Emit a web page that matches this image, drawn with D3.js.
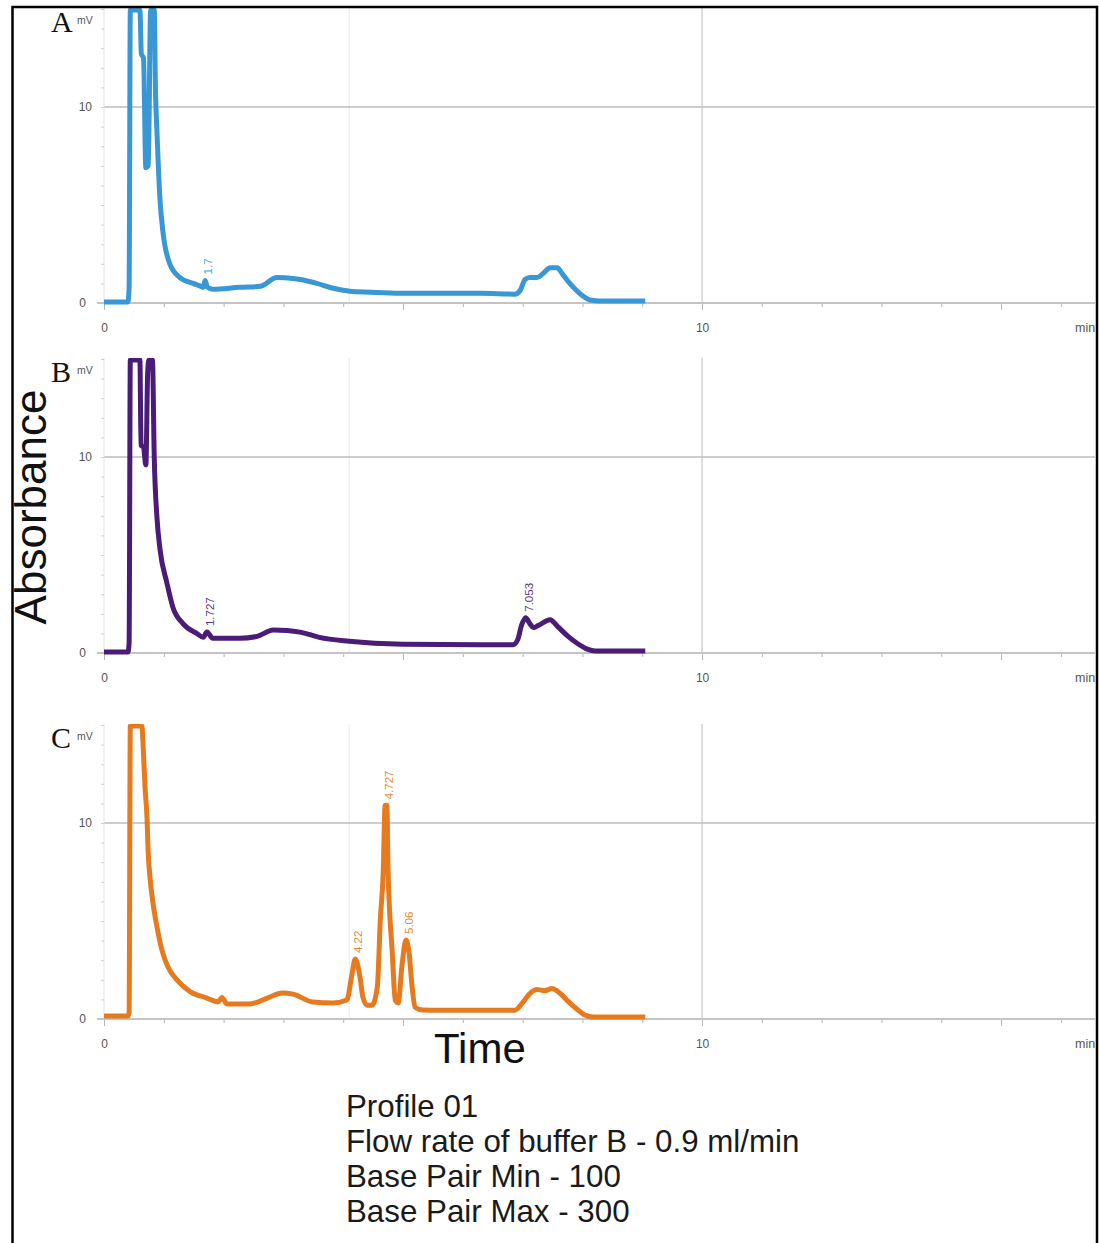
<!DOCTYPE html>
<html>
<head>
<meta charset="utf-8">
<script src="https://cdn.jsdelivr.net/npm/d3@7"></script>
<style>
  body { margin: 0; background: #fff; }
  svg { display: block; font-family: "Liberation Sans", Arial, sans-serif; }
</style>
</head>
<body>
<svg id="chart" width="1099" height="1243"></svg>
<script>
'use strict'

// Run A (blue) - time in min, absorbance in mV.
var timeA = [0, 0.40, 0.42, 0.44, 0.60, 0.625, 0.66, 0.70, 0.74, 0.78, 0.84, 0.86, 0.886, 0.936, 0.987, 1.10, 1.27, 1.49, 1.62, 1.66, 1.69, 1.73, 1.82, 2.27, 2.61, 2.89, 3.16, 3.28, 3.56, 3.83, 4.11, 4.45, 4.95, 6.29, 6.87, 6.96, 7.04, 7.12, 7.24, 7.34, 7.46, 7.58, 7.66, 7.76, 7.88, 7.99, 8.13, 8.29, 9.05];
var absA  = [0.05, 0.05, 0.8, 20, 20, 12.7, 12.5, 6.9, 7.0, 20, 20, 10.9, 8.7, 5.3, 3.6, 2.0, 1.3, 1.0, 0.85, 0.8, 1.15, 0.8, 0.7, 0.8, 0.85, 1.3, 1.25, 1.2, 1.0, 0.75, 0.6, 0.55, 0.5, 0.5, 0.45, 0.65, 1.2, 1.3, 1.3, 1.5, 1.8, 1.8, 1.5, 1.1, 0.7, 0.4, 0.15, 0.1, 0.1];

// Run B (purple).
var timeB = [0, 0.40, 0.42, 0.44, 0.60, 0.62, 0.66, 0.70, 0.73, 0.75, 0.81, 0.84, 0.886, 0.936, 1.05, 1.15, 1.32, 1.55, 1.66, 1.72, 1.82, 2.27, 2.56, 2.83, 3.06, 3.30, 3.60, 4.10, 5.00, 6.30, 6.84, 6.92, 6.98, 7.05, 7.12, 7.18, 7.26, 7.46, 7.57, 7.74, 7.91, 8.08, 8.21, 9.05];
var absB  = [0.05, 0.05, 0.5, 20, 20, 10.6, 10.5, 9.6, 14.3, 20, 20, 10, 6.9, 5.3, 3.6, 2.35, 1.5, 1.0, 0.8, 1.07, 0.75, 0.75, 0.85, 1.17, 1.15, 1.05, 0.8, 0.6, 0.45, 0.42, 0.42, 0.7, 1.4, 1.8, 1.5, 1.3, 1.4, 1.7, 1.4, 0.9, 0.5, 0.2, 0.1, 0.1];

// Run C (orange).
var timeC = [0, 0.40, 0.42, 0.44, 0.635, 0.65, 0.686, 0.72, 0.736, 0.77, 0.82, 0.886, 0.97, 1.07, 1.22, 1.44, 1.72, 1.91, 1.97, 2.06, 2.44, 2.73, 2.98, 3.16, 3.49, 3.83, 4.06, 4.15, 4.20, 4.28, 4.33, 4.40, 4.48, 4.57, 4.62, 4.67, 4.70, 4.73, 4.75, 4.82, 4.87, 4.92, 4.98, 5.05, 5.10, 5.15, 5.20, 5.33, 5.62, 6.87, 6.99, 7.12, 7.24, 7.37, 7.49, 7.63, 7.76, 7.91, 8.04, 8.18, 9.05];
var absC  = [0.15, 0.15, 0.3, 20, 20, 14.2, 11.8, 10.2, 8.7, 7.2, 5.9, 4.7, 3.5, 2.65, 2.0, 1.4, 1.07, 0.87, 1.1, 0.77, 0.77, 1.07, 1.33, 1.27, 0.87, 0.82, 0.97, 2.35, 3.06, 2.15, 1.1, 0.7, 0.7, 1.63, 5.05, 7.6, 10.9, 10.9, 7.6, 3.4, 0.97, 0.82, 2.65, 4.03, 3.4, 1.7, 0.6, 0.46, 0.45, 0.45, 0.8, 1.3, 1.5, 1.45, 1.55, 1.3, 0.9, 0.5, 0.2, 0.1, 0.1];

// Peak annotations: time, height, label.
var peakTimeA = [1.69],  peakAbsA = [1.15], peakLabelA = ['1.7'];
var peakTimeB = [1.72, 7.05], peakAbsB = [1.07, 1.8], peakLabelB = ['1.727', '7.053'];
var peakTimeC = [4.20, 4.72, 5.05], peakAbsC = [3.06, 10.9, 4.03], peakLabelC = ['4.22', '4.727', '5.06'];

// Axes.
var xTicks = [0, 1, 2, 3, 4, 5, 6, 7, 8, 9, 10, 11, 12, 13, 14, 15, 16];
var xTickLabels = ['0', '10'];
var yTicks = [0, 1, 2, 3, 4, 5, 6, 7, 8, 9, 10, 11, 12, 13, 14, 15];
var yTickLabels = ['0', '10'];
var xGrid = [4.1, 10];
var yGrid = [10];

var panelNames  = ['A', 'B', 'C'];
var panelColors = ['#3897d4', '#4a1c78', '#e67a1e'];

var infoLines = ['Profile 01', 'Flow rate of buffer B - 0.9 ml/min', 'Base Pair Min - 100', 'Base Pair Max - 300'];

(function() {

  var svg = d3.select('#chart');

  // Baseline (y of 0 mV) for each panel.
  var panelBase = [303, 653, 1019];
  var panelHeight = 295;
  var left = 104, right = 1095;

  var x = d3.scaleLinear().domain([0, 16.57]).range([left, right]);

  var series = [
    { t: timeA, v: absA, pt: peakTimeA, pv: peakAbsA, pl: peakLabelA },
    { t: timeB, v: absB, pt: peakTimeB, pv: peakAbsB, pl: peakLabelB },
    { t: timeC, v: absC, pt: peakTimeC, pv: peakAbsC, pl: peakLabelC }
  ];

  series.forEach(function(s, i) {
    var base = panelBase[i];
    var top = base - panelHeight;
    var y = d3.scaleLinear().domain([0, 10]).range([base, base - 196]);
    var yMax = y.invert(top + 2);
    var color = panelColors[i];
    var g = svg.append('g');

    // Faint vertical grid.
    g.selectAll('.vgrid').data(xGrid).enter().append('line')
      .attr('x1', function(d) { return x(d); }).attr('x2', function(d) { return x(d); })
      .attr('y1', top).attr('y2', base)
      .attr('stroke', function(d) { return d === 10 ? '#c8c8c8' : '#ececec'; })
      .attr('stroke-width', 1.2);

    // Horizontal grid at 10 mV.
    g.selectAll('.hgrid').data(yGrid).enter().append('line')
      .attr('x1', left).attr('x2', right)
      .attr('y1', function(d) { return y(d); }).attr('y2', function(d) { return y(d); })
      .attr('stroke', '#bdbdbd').attr('stroke-width', 1.5);

    // Y axis line.
    g.append('line')
      .attr('x1', left).attr('x2', left).attr('y1', top).attr('y2', base)
      .attr('stroke', '#e2e2e2').attr('stroke-width', 1);

    // Y ticks.
    var yAxis = d3.axisLeft(y).tickValues(yTicks).tickSize(3)
      .tickFormat(function(d) { return yTickLabels.indexOf(String(d)) >= 0 ? d : ''; });
    var ya = g.append('g').attr('transform', 'translate(' + left + ',0)').call(yAxis);
    ya.select('.domain').remove();
    ya.selectAll('.tick line').attr('stroke', '#cfcfcf');
    ya.selectAll('.tick text')
      .attr('fill', '#555').style('font-size', '12px')
      .attr('x', function(d) { return d === 0 ? -18 : -12; });
    ya.selectAll('.tick').filter(function(d) { return d === 0; }).select('line')
      .attr('x2', -7).attr('stroke', '#777');

    // X axis.
    var xAxis = d3.axisBottom(x).tickValues(xTicks).tickSize(4)
      .tickFormat(function(d) { return xTickLabels.indexOf(String(d)) >= 0 ? d : ''; });
    var xa = g.append('g').attr('transform', 'translate(0,' + base + ')').call(xAxis);
    xa.select('.domain').remove();
    xa.selectAll('.tick line').attr('stroke', '#b5b5b5')
      .attr('y2', function(d) { return d % 5 === 0 ? 7 : 4; });
    xa.selectAll('.tick text').attr('fill', '#555').style('font-size', '12px').attr('y', 20);
    g.append('line')
      .attr('x1', left - 7).attr('x2', right).attr('y1', base).attr('y2', base)
      .attr('stroke', '#c4c4c4').attr('stroke-width', 2);
    g.append('text')
      .attr('x', 1075).attr('y', base + 29)
      .attr('fill', '#555').style('font-size', '12.5px').text('min');

    // Units and panel letter.
    g.append('text')
      .attr('x', 77).attr('y', top + 16)
      .attr('fill', '#555').style('font-size', '10.5px').text('mV');
    g.append('text')
      .attr('x', 51).attr('y', base - 271)
      .style('font-family', '"Liberation Serif", "Times New Roman", serif')
      .style('font-size', '30px').attr('fill', '#111').text(panelNames[i]);

    // Trace, clipped to plot area.
    var clipId = 'clip' + i;
    svg.append('clipPath').attr('id', clipId).append('rect')
      .attr('x', left).attr('y', top).attr('width', right - left).attr('height', panelHeight + 4);

    var line = d3.line()
      .curve(d3.curveMonotoneX)
      .x(function(d) { return x(d[0]); })
      .y(function(d) { return y(Math.min(d[1], yMax)); });

    g.append('path')
      .datum(d3.zip(s.t, s.v))
      .attr('clip-path', 'url(#' + clipId + ')')
      .attr('d', line)
      .attr('fill', 'none')
      .attr('stroke', color)
      .attr('stroke-width', 5)
      .attr('stroke-linejoin', 'miter');

    // Peak labels.
    g.selectAll('.peak').data(d3.zip(s.pt, s.pv, s.pl)).enter().append('text')
      .attr('transform', function(d) {
        return 'translate(' + (x(d[0]) + 7) + ',' + (y(d[1]) - 6) + ') rotate(-90)';
      })
      .attr('fill', color).style('font-size', '11.5px').style('opacity', 0.9)
      .text(function(d) { return d[2]; });
  });

  // Axis titles.
  svg.append('text')
    .attr('transform', 'translate(46,507) rotate(-90)')
    .attr('text-anchor', 'middle')
    .style('font-size', '44px').attr('fill', '#111')
    .text('Absorbance');

  svg.append('text')
    .attr('x', 434).attr('y', 1063)
    .style('font-size', '42px').attr('fill', '#111')
    .text('Time');

  // Run conditions.
  svg.selectAll('.info').data(infoLines).enter().append('text')
    .attr('x', 346)
    .attr('y', function(d, i) { return 1117 + i * 35; })
    .style('font-size', '31.3px').attr('fill', '#1a1a1a')
    .text(function(d) { return d; });

  // Outer frame.
  svg.append('rect')
    .attr('x', 1097).attr('y', 0).attr('width', 2).attr('height', 1243).attr('fill', '#fff');
  svg.append('rect')
    .attr('x', 12.5).attr('y', 7).attr('width', 1084.5).attr('height', 1250)
    .attr('fill', 'none').attr('stroke', '#000').attr('stroke-width', 2.5);

})();
</script>
</body>
</html>
